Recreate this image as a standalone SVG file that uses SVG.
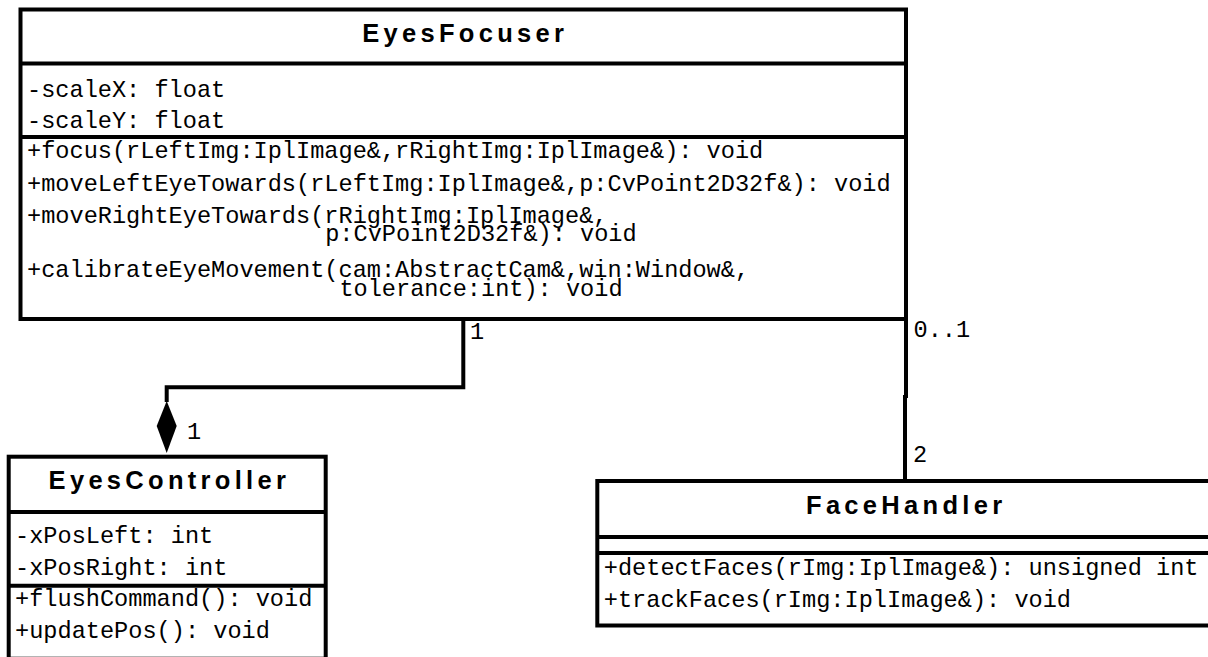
<svg xmlns="http://www.w3.org/2000/svg" width="1208" height="657" viewBox="0 0 1208 657">
  <style>
    .box { fill: #fff; stroke: #000; stroke-width: 4; }
    .sep { stroke: #000; stroke-width: 4; }
    .title { font-family: "Liberation Sans", Arial, sans-serif; font-weight: bold; font-size: 25.5px; letter-spacing: 4.3px; text-anchor: middle; fill: #000; }
    .mem { font-family: "Liberation Mono", "Courier New", monospace; font-size: 23.6px; fill: #000; }
    .conn { fill: none; stroke: #000; stroke-width: 4; }
  </style>

  <rect width="1208" height="657" fill="#fff"/>

  <!-- associations between the classes -->
  <g id="connectors">
    <path class="conn" d="M463.3,319 V387.3 H166.7 V402"/>
    <polygon points="166.7,401 156.7,426 166.7,453 176.7,426" fill="#000"/>
    <text class="mem" x="470" y="338.5">1</text>
    <text class="mem" x="187" y="438.5">1</text>

    <line class="conn" x1="906" y1="319" x2="906" y2="398"/>
    <line class="conn" x1="905" y1="395" x2="905" y2="481" stroke-width="3.5"/>
    <text class="mem" x="913.5" y="337">0..1</text>
    <text class="mem" x="913" y="462">2</text>
  </g>

  <!-- EyesFocuser -->
  <g id="EyesFocuser">
    <rect class="box" x="20.5" y="9.5" width="885.5" height="309.5"/>
    <line class="sep" x1="20.5" y1="63.5" x2="906" y2="63.5"/>
    <line class="sep" x1="20.5" y1="137" x2="906" y2="137"/>
    <text class="title" x="465.2" y="41.5">EyesFocuser</text>
    <text class="mem" x="27" y="96.7">-scaleX: float</text>
    <text class="mem" x="27" y="128.3">-scaleY: float</text>
    <text class="mem" x="27" y="158.3">+focus(rLeftImg:IplImage&amp;,rRightImg:IplImage&amp;): void</text>
    <text class="mem" x="27" y="190.7">+moveLeftEyeTowards(rLeftImg:IplImage&amp;,p:CvPoint2D32f&amp;): void</text>
    <text class="mem" x="27" y="222.7">+moveRightEyeTowards(rRightImg:IplImage&amp;,</text>
    <text class="mem" x="325.2" y="240.5">p:CvPoint2D32f&amp;): void</text>
    <text class="mem" x="27" y="276.7">+calibrateEyeMovement(cam:AbstractCam&amp;,win:Window&amp;,</text>
    <text class="mem" x="339.4" y="295.5">tolerance:int): void</text>
  </g>

  <!-- EyesController -->
  <g id="EyesController">
    <rect class="box" x="8.7" y="456.7" width="317" height="202"/>
    <line class="sep" x1="8.7" y1="512" x2="325.7" y2="512"/>
    <line class="sep" x1="8.7" y1="585.7" x2="325.7" y2="585.7"/>
    <text class="title" x="169.4" y="489">EyesController</text>
    <text class="mem" x="15" y="543.3">-xPosLeft: int</text>
    <text class="mem" x="15" y="575">-xPosRight: int</text>
    <text class="mem" x="15" y="606">+flushCommand(): void</text>
    <text class="mem" x="15" y="638">+updatePos(): void</text>
  </g>

  <!-- FaceHandler -->
  <g id="FaceHandler">
    <rect class="box" x="597.3" y="481" width="614" height="144.5"/>
    <line class="sep" x1="597.3" y1="537" x2="1211.3" y2="537"/>
    <line class="sep" x1="597.3" y1="553" x2="1211.3" y2="553"/>
    <text class="title" x="906.2" y="513.5">FaceHandler</text>
    <text class="mem" x="603.8" y="575">+detectFaces(rImg:IplImage&amp;): unsigned int</text>
    <text class="mem" x="603.8" y="606.5">+trackFaces(rImg:IplImage&amp;): void</text>
  </g>
</svg>
